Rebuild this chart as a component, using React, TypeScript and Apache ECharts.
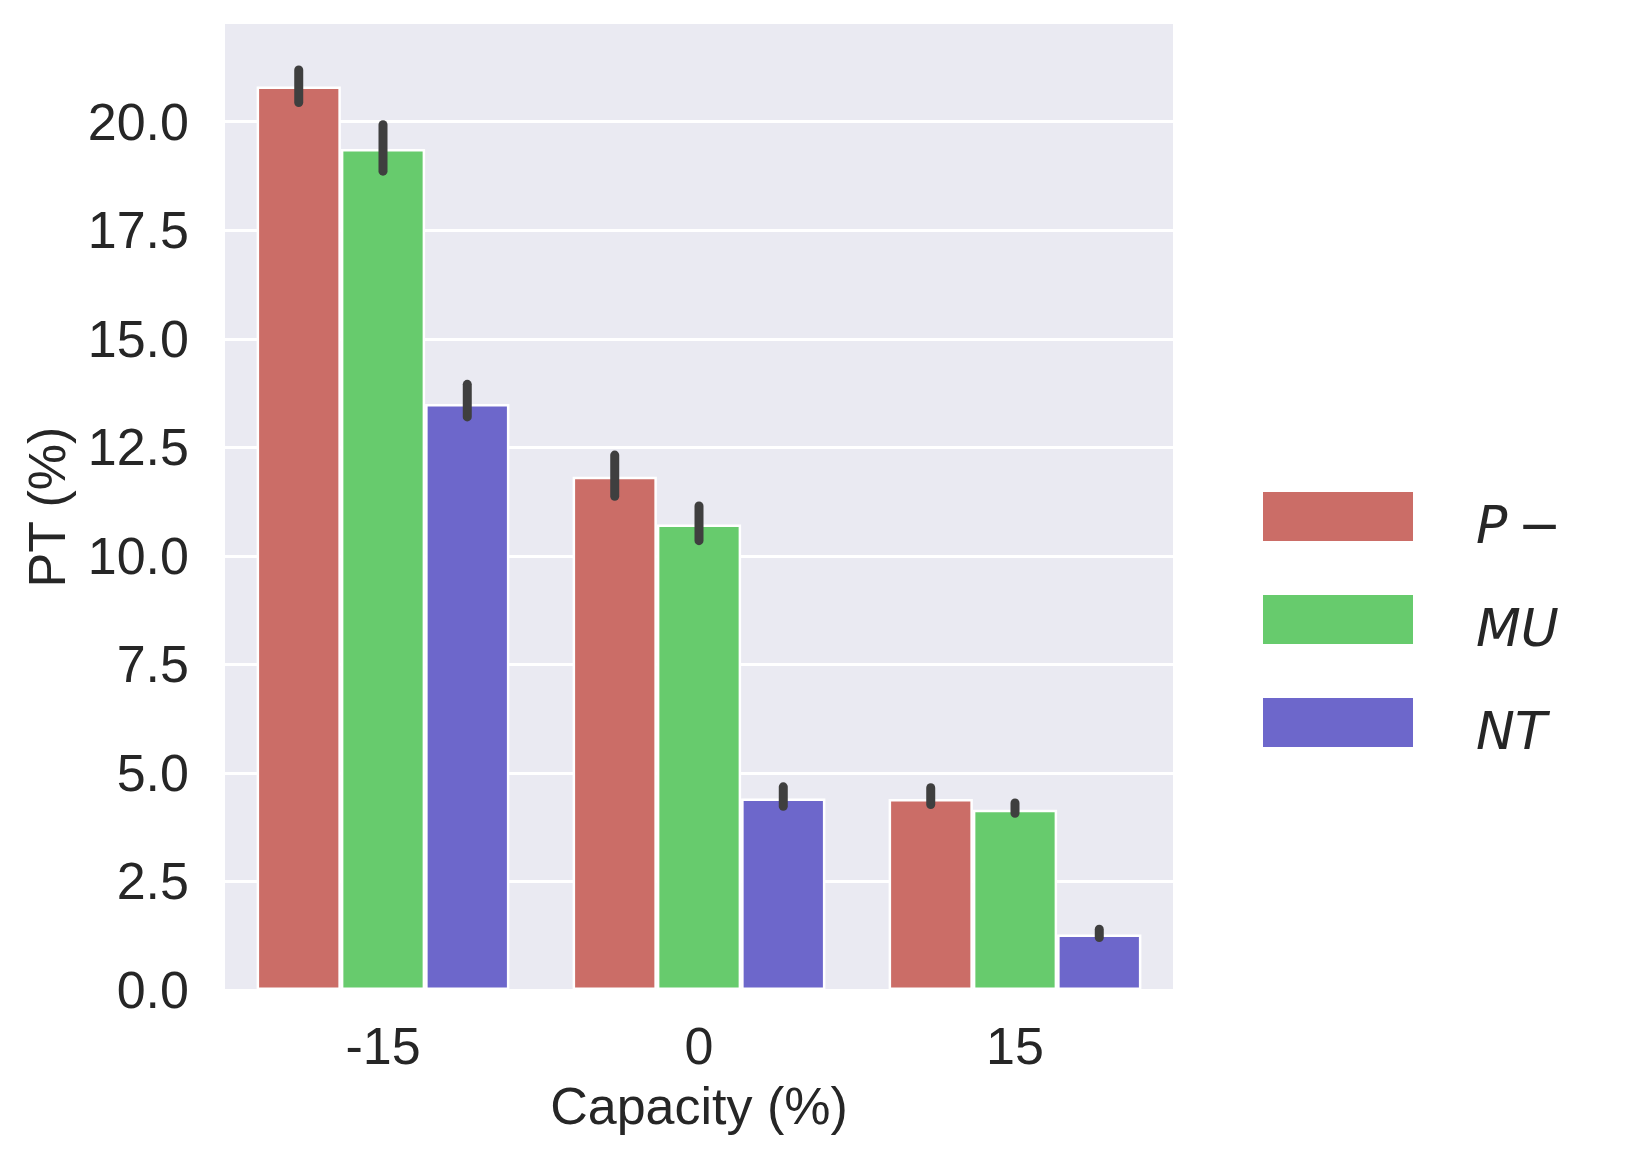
import React, { useEffect, useRef } from "react";
import * as echarts from "echarts";

const categories = ["-15", "0", "15"];
const hueNames = ["P-", "MU", "NT"];
const hueColors = ["#cb6d67", "#67cb6d", "#6d67cb"];

const valuesP = [20.81, 11.82, 4.4];
const valuesMU = [19.37, 10.72, 4.15];
const valuesNT = [13.5, 4.41, 1.28];

const errLowP = [20.44, 11.37, 4.27];
const errHighP = [21.19, 12.32, 4.66];
const errLowMU = [18.86, 10.35, 4.07];
const errHighMU = [19.93, 11.15, 4.31];
const errLowNT = [13.2, 4.23, 1.21];
const errHighNT = [13.95, 4.68, 1.4];

const yTicks = [0, 2.5, 5, 7.5, 10, 12.5, 15, 17.5, 20];

const FONT = "'Liberation Sans', Arial, sans-serif";
const TEXT_COLOR = "#262626";

export default function App() {
  const ref = useRef<HTMLDivElement>(null);

  useEffect(() => {
    if (!ref.current) return;
    const chart = echarts.init(ref.current, undefined, { renderer: "svg" });

    const values = [valuesP, valuesMU, valuesNT];
    const lows = [errLowP, errLowMU, errLowNT];
    const highs = [errHighP, errHighMU, errHighNT];

    const barSeries = hueNames.map((name, i) => ({
      name,
      type: "bar",
      data: values[i],
      barGap: "0%",
      barCategoryGap: "20%",
      itemStyle: { color: hueColors[i], borderColor: "#ffffff", borderWidth: 2.5 },
      emphasis: { disabled: true },
      z: 2,
    }));

    const errSeries = hueNames.map((name, i) => ({
      name: name + " err",
      type: "custom",
      data: categories.map((_, k) => [k, lows[i][k], highs[i][k]]),
      z: 5,
      silent: true,
      renderItem: (params: any, api: any) => {
        const k = api.value(0);
        const band = api.size([1, 0])[0];
        const offset = (i - 1) * (band * 0.8) / 3;
        const p1 = api.coord([k, api.value(1)]);
        const p2 = api.coord([k, api.value(2)]);
        return {
          type: "line",
          shape: { x1: p1[0] + offset, y1: p1[1], x2: p2[0] + offset, y2: p2[1] },
          style: { stroke: "#3f3f3f", lineWidth: 9, lineCap: "round" },
        };
      },
    }));

    const legendRich = {
      i: { fontFamily: "'DejaVu Sans'", fontStyle: "italic", fontSize: 52, color: TEXT_COLOR, lineHeight: 49 },
      n: { fontFamily: "'DejaVu Sans'", fontStyle: "normal", fontSize: 52, color: TEXT_COLOR, lineHeight: 49 },
    };

    chart.setOption({
      animation: false,
      backgroundColor: "#ffffff",
      grid: {
        left: 225,
        right: 454,
        top: 24,
        bottom: 171,
        show: true,
        backgroundColor: "#eaeaf2",
        borderWidth: 0,
        containLabel: false,
      },
      legend: {
        data: hueNames,
        orient: "vertical",
        left: 1263,
        top: 484,
        padding: 0,
        itemWidth: 150,
        itemHeight: 49,
        itemGap: 36.5,
        icon: "rect",
        selectedMode: false,
        itemStyle: { borderWidth: 0 },
        formatter: (name: string) => {
          if (name === "P-") return "{i|P}{n|\u2009\u2212}";
          return "{i|" + name + "}";
        },
        textStyle: {
          fontFamily: "'DejaVu Sans'",
          fontSize: 52,
          lineHeight: 49,
          color: TEXT_COLOR,
          padding: [16, 0, 0, 58],
          rich: legendRich,
        },
      },
      xAxis: {
        type: "category",
        data: categories,
        axisLine: { show: false },
        axisTick: { show: false },
        splitLine: { show: false },
        axisLabel: { fontFamily: FONT, fontSize: 52, color: TEXT_COLOR, margin: 30 },
        name: "Capacity (%)",
        nameLocation: "middle",
        nameGap: 90,
        nameTextStyle: { fontFamily: FONT, fontSize: 52, color: TEXT_COLOR },
      },
      yAxis: {
        type: "value",
        min: 0,
        max: 22.25,
        interval: 2.5,
        axisLine: { show: false },
        axisTick: { show: false },
        splitLine: { show: true, showMaxLine: false, lineStyle: { color: "#ffffff", width: 3 } },
        axisLabel: {
          fontFamily: FONT,
          fontSize: 52,
          color: TEXT_COLOR,
          margin: 36,
          showMaxLabel: false,
          formatter: (v: number) => (yTicks.some((t) => Math.abs(t - v) < 1e-6) ? v.toFixed(1) : ""),
        },
        name: "PT (%)",
        nameLocation: "middle",
        nameGap: 152,
        nameTextStyle: { fontFamily: FONT, fontSize: 52, color: TEXT_COLOR },
      },
      series: [...barSeries, ...errSeries],
    });

    return () => chart.dispose();
  }, []);

  return (
    <div
      ref={ref}
      style={{ position: "absolute", left: 0, top: 0, width: 1627, height: 1161 }}
    />
  );
}
